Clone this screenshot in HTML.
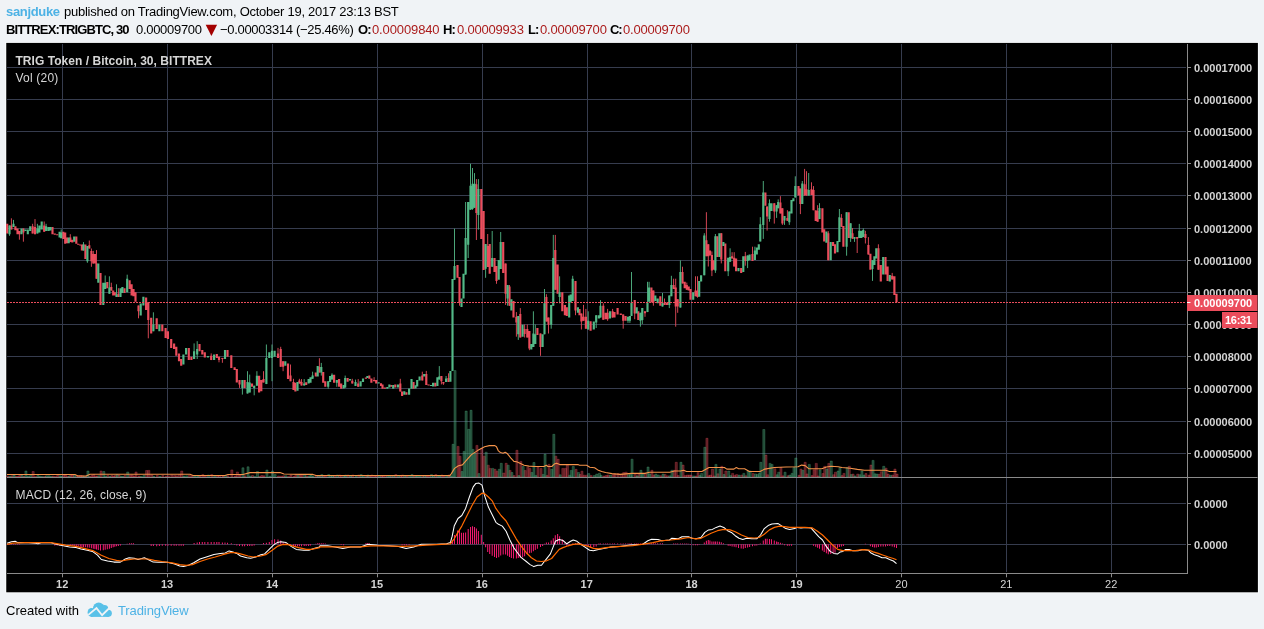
<!DOCTYPE html>
<html><head><meta charset="utf-8"><title>TRIGBTC chart</title>
<style>
html,body{margin:0;padding:0;}
body{width:1264px;height:629px;background:#f0f3f6;position:relative;overflow:hidden;font-family:"Liberation Sans",sans-serif;}
.t{position:absolute;white-space:nowrap;font-size:13px;line-height:16px;color:#000;will-change:transform;}
.b{font-weight:bold;}
.rd{color:#ab1c1c;}
.bl{color:#4db2e5;}
</style></head><body>
<svg width="1264" height="629" viewBox="0 0 1264 629" style="position:absolute;left:0;top:0;will-change:transform">
<rect x="5.35" y="42.0" width="1253.45" height="551.1999999999999" fill="#fbfdfe"/>
<rect x="6.25" y="42.9" width="1251.65" height="549.4" fill="#000"/>
<path d="M7 67.5H1186M7 99.5H1186M7 131.5H1186M7 163.5H1186M7 195.5H1186M7 228.5H1186M7 260.5H1186M7 292.5H1186M7 324.5H1186M7 356.5H1186M7 388.5H1186M7 421.5H1186M7 453.5H1186M7 503.5H1186M7 544.5H1186M62.5 44V572M167.5 44V572M272.5 44V572M377.5 44V572M482.5 44V572M587.5 44V572M691.5 44V572M796.5 44V572M901.5 44V572M1006.5 44V572M1111.5 44V572" stroke="#363c4e" stroke-width="1" fill="none" shape-rendering="crispEdges"/>
<path d="M6.70 477.0V476.0h2.1V477.0zM10.90 477.0V475.8h2.1V477.0zM14.90 477.0V476.4h2.1V477.0zM17.00 477.0V476.4h2.1V477.0zM18.90 477.0V474.6h2.1V477.0zM22.90 477.0V476.4h2.1V477.0zM32.10 477.0V471.5h2.1V477.0zM34.50 477.0V476.4h2.1V477.0zM43.70 477.0V476.4h2.1V477.0zM52.00 477.0V476.2h2.1V477.0zM54.30 477.0V476.4h2.1V477.0zM56.70 477.0V475.5h2.1V477.0zM62.80 477.0V474.6h2.1V477.0zM64.70 477.0V475.5h2.1V477.0zM66.60 477.0V476.4h2.1V477.0zM69.80 477.0V475.0h2.1V477.0zM71.80 477.0V475.0h2.1V477.0zM75.80 477.0V476.4h2.1V477.0zM77.70 477.0V475.5h2.1V477.0zM79.80 477.0V475.5h2.1V477.0zM81.40 477.0V475.8h2.1V477.0zM84.90 477.0V476.2h2.1V477.0zM88.80 477.0V476.4h2.1V477.0zM90.90 477.0V475.5h2.1V477.0zM92.80 477.0V474.6h2.1V477.0zM94.40 477.0V476.2h2.1V477.0zM96.00 477.0V476.0h2.1V477.0zM100.00 477.0V471.0h2.1V477.0zM106.80 477.0V475.5h2.1V477.0zM110.80 477.0V475.5h2.1V477.0zM112.70 477.0V476.0h2.1V477.0zM114.30 477.0V475.5h2.1V477.0zM117.90 477.0V475.0h2.1V477.0zM124.00 477.0V475.5h2.1V477.0zM129.10 477.0V475.5h2.1V477.0zM131.10 477.0V475.0h2.1V477.0zM133.00 477.0V476.2h2.1V477.0zM135.00 477.0V472.0h2.1V477.0zM138.00 477.0V476.0h2.1V477.0zM145.60 477.0V470.5h2.1V477.0zM147.80 477.0V470.4h2.1V477.0zM150.70 477.0V475.0h2.1V477.0zM156.20 477.0V475.5h2.1V477.0zM161.80 477.0V475.5h2.1V477.0zM165.10 477.0V476.2h2.1V477.0zM167.40 477.0V475.8h2.1V477.0zM170.70 477.0V475.0h2.1V477.0zM173.60 477.0V475.5h2.1V477.0zM175.80 477.0V475.8h2.1V477.0zM178.50 477.0V474.6h2.1V477.0zM180.70 477.0V471.0h2.1V477.0zM188.30 477.0V475.5h2.1V477.0zM190.90 477.0V475.8h2.1V477.0zM199.00 477.0V476.2h2.1V477.0zM201.80 477.0V474.6h2.1V477.0zM204.30 477.0V476.2h2.1V477.0zM210.70 477.0V474.6h2.1V477.0zM216.30 477.0V476.4h2.1V477.0zM218.50 477.0V475.5h2.1V477.0zM221.90 477.0V476.0h2.1V477.0zM227.00 477.0V475.8h2.1V477.0zM230.80 477.0V469.9h2.1V477.0zM234.10 477.0V476.0h2.1V477.0zM236.30 477.0V472.0h2.1V477.0zM239.00 477.0V475.0h2.1V477.0zM244.10 477.0V475.8h2.1V477.0zM251.50 477.0V475.5h2.1V477.0zM258.60 477.0V476.4h2.1V477.0zM260.80 477.0V475.5h2.1V477.0zM263.00 477.0V475.8h2.1V477.0zM277.50 477.0V476.0h2.1V477.0zM280.20 477.0V476.2h2.1V477.0zM282.60 477.0V475.8h2.1V477.0zM287.50 477.0V476.4h2.1V477.0zM290.00 477.0V475.0h2.1V477.0zM293.00 477.0V476.4h2.1V477.0zM294.90 477.0V474.6h2.1V477.0zM298.90 477.0V475.5h2.1V477.0zM301.00 477.0V474.6h2.1V477.0zM305.70 477.0V476.0h2.1V477.0zM315.30 477.0V475.5h2.1V477.0zM318.90 477.0V475.5h2.1V477.0zM322.70 477.0V475.8h2.1V477.0zM324.80 477.0V476.4h2.1V477.0zM333.60 477.0V475.8h2.1V477.0zM338.60 477.0V475.0h2.1V477.0zM340.70 477.0V476.4h2.1V477.0zM347.10 477.0V475.0h2.1V477.0zM351.80 477.0V475.0h2.1V477.0zM357.70 477.0V475.0h2.1V477.0zM365.40 477.0V476.0h2.1V477.0zM368.80 477.0V475.8h2.1V477.0zM370.90 477.0V475.0h2.1V477.0zM373.60 477.0V476.0h2.1V477.0zM375.70 477.0V476.4h2.1V477.0zM380.50 477.0V476.0h2.1V477.0zM382.00 477.0V476.2h2.1V477.0zM384.40 477.0V475.5h2.1V477.0zM390.80 477.0V476.4h2.1V477.0zM394.80 477.0V474.6h2.1V477.0zM399.80 477.0V476.2h2.1V477.0zM401.60 477.0V475.0h2.1V477.0zM405.90 477.0V475.8h2.1V477.0zM413.00 477.0V475.8h2.1V477.0zM421.80 477.0V475.8h2.1V477.0zM425.80 477.0V476.0h2.1V477.0zM428.10 477.0V476.2h2.1V477.0zM434.80 477.0V474.6h2.1V477.0zM440.90 477.0V475.0h2.1V477.0zM442.90 477.0V475.8h2.1V477.0zM448.00 477.0V475.0h2.1V477.0zM457.00 477.0V446.4h2.1V477.0zM459.00 477.0V456.2h2.1V477.0zM475.90 477.0V445.4h2.1V477.0zM480.80 477.0V448.3h2.1V477.0zM483.10 477.0V456.2h2.1V477.0zM487.20 477.0V465.2h2.1V477.0zM489.20 477.0V468.4h2.1V477.0zM494.00 477.0V469.3h2.1V477.0zM496.00 477.0V471.2h2.1V477.0zM502.70 477.0V473.1h2.1V477.0zM505.10 477.0V463.3h2.1V477.0zM509.00 477.0V470.4h2.1V477.0zM513.00 477.0V475.6h2.1V477.0zM515.90 477.0V450.3h2.1V477.0zM519.80 477.0V461.4h2.1V477.0zM524.10 477.0V470.4h2.1V477.0zM526.80 477.0V467.2h2.1V477.0zM528.90 477.0V468.4h2.1V477.0zM536.90 477.0V467.2h2.1V477.0zM540.00 477.0V468.4h2.1V477.0zM545.90 477.0V475.4h2.1V477.0zM548.00 477.0V464.4h2.1V477.0zM554.80 477.0V456.2h2.1V477.0zM557.10 477.0V459.3h2.1V477.0zM561.80 477.0V468.4h2.1V477.0zM564.40 477.0V468.4h2.1V477.0zM566.30 477.0V465.2h2.1V477.0zM575.00 477.0V469.3h2.1V477.0zM579.00 477.0V474.5h2.1V477.0zM580.90 477.0V471.2h2.1V477.0zM583.00 477.0V475.2h2.1V477.0zM585.40 477.0V475.2h2.1V477.0zM590.10 477.0V475.5h2.1V477.0zM602.80 477.0V476.0h2.1V477.0zM605.20 477.0V475.5h2.1V477.0zM607.10 477.0V475.0h2.1V477.0zM612.10 477.0V474.6h2.1V477.0zM614.00 477.0V474.1h2.1V477.0zM617.10 477.0V473.6h2.1V477.0zM620.30 477.0V474.3h2.1V477.0zM622.70 477.0V472.5h2.1V477.0zM625.10 477.0V472.2h2.1V477.0zM634.20 477.0V474.3h2.1V477.0zM637.80 477.0V473.8h2.1V477.0zM644.50 477.0V473.8h2.1V477.0zM650.90 477.0V470.3h2.1V477.0zM652.90 477.0V475.0h2.1V477.0zM659.80 477.0V475.7h2.1V477.0zM664.00 477.0V474.4h2.1V477.0zM666.40 477.0V475.8h2.1V477.0zM673.10 477.0V470.3h2.1V477.0zM675.20 477.0V462.3h2.1V477.0zM677.20 477.0V475.5h2.1V477.0zM682.00 477.0V465.1h2.1V477.0zM684.20 477.0V475.6h2.1V477.0zM686.30 477.0V475.1h2.1V477.0zM688.20 477.0V475.1h2.1V477.0zM690.00 477.0V475.1h2.1V477.0zM695.00 477.0V476.0h2.1V477.0zM697.00 477.0V472.7h2.1V477.0zM705.90 477.0V438.3h2.1V477.0zM707.80 477.0V475.7h2.1V477.0zM709.40 477.0V475.1h2.1V477.0zM711.40 477.0V469.1h2.1V477.0zM713.30 477.0V475.9h2.1V477.0zM716.80 477.0V473.8h2.1V477.0zM720.80 477.0V466.3h2.1V477.0zM724.80 477.0V471.0h2.1V477.0zM731.60 477.0V473.4h2.1V477.0zM733.70 477.0V475.4h2.1V477.0zM735.60 477.0V474.6h2.1V477.0zM740.70 477.0V475.1h2.1V477.0zM744.80 477.0V475.7h2.1V477.0zM752.00 477.0V473.4h2.1V477.0zM764.90 477.0V455.1h2.1V477.0zM766.60 477.0V474.8h2.1V477.0zM773.80 477.0V468.7h2.1V477.0zM779.90 477.0V467.5h2.1V477.0zM781.90 477.0V475.8h2.1V477.0zM786.90 477.0V475.7h2.1V477.0zM798.00 477.0V475.3h2.1V477.0zM799.90 477.0V469.1h2.1V477.0zM804.10 477.0V462.3h2.1V477.0zM806.00 477.0V473.9h2.1V477.0zM811.00 477.0V475.6h2.1V477.0zM813.00 477.0V469.8h2.1V477.0zM815.20 477.0V463.4h2.1V477.0zM817.10 477.0V475.9h2.1V477.0zM821.90 477.0V473.6h2.1V477.0zM823.70 477.0V466.3h2.1V477.0zM827.80 477.0V463.4h2.1V477.0zM832.60 477.0V474.7h2.1V477.0zM834.50 477.0V472.2h2.1V477.0zM840.90 477.0V475.6h2.1V477.0zM842.90 477.0V473.4h2.1V477.0zM848.20 477.0V466.3h2.1V477.0zM852.00 477.0V474.1h2.1V477.0zM856.70 477.0V474.1h2.1V477.0zM864.90 477.0V473.6h2.1V477.0zM867.90 477.0V475.1h2.1V477.0zM869.90 477.0V465.1h2.1V477.0zM877.90 477.0V474.3h2.1V477.0zM880.30 477.0V471.7h2.1V477.0zM885.00 477.0V468.2h2.1V477.0zM887.10 477.0V474.1h2.1V477.0zM891.70 477.0V475.1h2.1V477.0zM893.90 477.0V469.1h2.1V477.0zM896.00 477.0V474.1h2.1V477.0z" fill="#eb4d5c" fill-opacity="0.36" stroke="#eb4d5c" stroke-opacity="0.6" stroke-width="0.5"/>
<path d="M9.00 477.0V476.2h2.1V477.0zM13.00 477.0V475.0h2.1V477.0zM21.00 477.0V475.5h2.1V477.0zM24.90 477.0V471.0h2.1V477.0zM27.30 477.0V476.0h2.1V477.0zM29.70 477.0V475.5h2.1V477.0zM36.90 477.0V475.5h2.1V477.0zM38.90 477.0V476.2h2.1V477.0zM41.20 477.0V476.4h2.1V477.0zM45.60 477.0V475.8h2.1V477.0zM48.00 477.0V475.8h2.1V477.0zM50.10 477.0V476.4h2.1V477.0zM59.10 477.0V475.8h2.1V477.0zM60.70 477.0V476.4h2.1V477.0zM68.20 477.0V476.2h2.1V477.0zM73.70 477.0V475.5h2.1V477.0zM83.00 477.0V476.4h2.1V477.0zM86.90 477.0V471.0h2.1V477.0zM97.80 477.0V475.8h2.1V477.0zM102.80 477.0V471.5h2.1V477.0zM104.70 477.0V476.2h2.1V477.0zM108.90 477.0V476.4h2.1V477.0zM116.00 477.0V474.6h2.1V477.0zM120.00 477.0V476.2h2.1V477.0zM121.90 477.0V476.4h2.1V477.0zM126.70 477.0V472.0h2.1V477.0zM140.20 477.0V476.4h2.1V477.0zM142.90 477.0V475.5h2.1V477.0zM152.90 477.0V476.4h2.1V477.0zM158.90 477.0V476.4h2.1V477.0zM182.90 477.0V476.0h2.1V477.0zM185.60 477.0V475.8h2.1V477.0zM193.60 477.0V476.0h2.1V477.0zM196.70 477.0V476.0h2.1V477.0zM207.40 477.0V475.0h2.1V477.0zM213.60 477.0V476.2h2.1V477.0zM224.50 477.0V475.5h2.1V477.0zM241.90 477.0V467.8h2.1V477.0zM247.00 477.0V466.8h2.1V477.0zM249.20 477.0V476.0h2.1V477.0zM253.70 477.0V476.4h2.1V477.0zM256.40 477.0V471.5h2.1V477.0zM265.90 477.0V470.0h2.1V477.0zM268.80 477.0V476.2h2.1V477.0zM271.50 477.0V471.0h2.1V477.0zM274.10 477.0V474.6h2.1V477.0zM284.80 477.0V475.8h2.1V477.0zM297.00 477.0V475.5h2.1V477.0zM303.70 477.0V474.6h2.1V477.0zM308.10 477.0V476.0h2.1V477.0zM310.00 477.0V475.0h2.1V477.0zM312.10 477.0V476.0h2.1V477.0zM317.20 477.0V475.8h2.1V477.0zM320.80 477.0V474.6h2.1V477.0zM327.70 477.0V474.6h2.1V477.0zM329.60 477.0V476.4h2.1V477.0zM331.50 477.0V476.0h2.1V477.0zM336.30 477.0V475.0h2.1V477.0zM343.10 477.0V476.4h2.1V477.0zM344.70 477.0V475.0h2.1V477.0zM349.50 477.0V476.0h2.1V477.0zM355.00 477.0V475.5h2.1V477.0zM360.10 477.0V474.6h2.1V477.0zM362.50 477.0V475.8h2.1V477.0zM366.90 477.0V475.0h2.1V477.0zM378.10 477.0V475.8h2.1V477.0zM386.80 477.0V476.4h2.1V477.0zM388.90 477.0V475.8h2.1V477.0zM392.70 477.0V476.2h2.1V477.0zM397.50 477.0V476.0h2.1V477.0zM403.80 477.0V476.2h2.1V477.0zM408.60 477.0V475.8h2.1V477.0zM411.00 477.0V474.6h2.1V477.0zM415.00 477.0V476.4h2.1V477.0zM416.70 477.0V476.2h2.1V477.0zM419.10 477.0V475.8h2.1V477.0zM423.70 477.0V475.5h2.1V477.0zM430.50 477.0V474.6h2.1V477.0zM432.60 477.0V475.8h2.1V477.0zM436.90 477.0V475.5h2.1V477.0zM438.80 477.0V476.0h2.1V477.0zM445.60 477.0V476.0h2.1V477.0zM449.90 477.0V475.8h2.1V477.0zM452.00 477.0V444.3h2.1V477.0zM454.00 477.0V370.6h2.1V477.0zM461.00 477.0V471.5h2.1V477.0zM463.00 477.0V451.4h2.1V477.0zM465.10 477.0V411.1h2.1V477.0zM467.70 477.0V429.3h2.1V477.0zM470.00 477.0V410.3h2.1V477.0zM472.00 477.0V449.4h2.1V477.0zM474.00 477.0V453.0h2.1V477.0zM477.90 477.0V473.6h2.1V477.0zM485.10 477.0V452.2h2.1V477.0zM491.70 477.0V468.4h2.1V477.0zM498.20 477.0V469.3h2.1V477.0zM500.20 477.0V463.3h2.1V477.0zM507.10 477.0V465.2h2.1V477.0zM510.90 477.0V472.5h2.1V477.0zM517.80 477.0V475.6h2.1V477.0zM522.10 477.0V466.5h2.1V477.0zM530.80 477.0V472.5h2.1V477.0zM532.90 477.0V462.5h2.1V477.0zM534.80 477.0V475.4h2.1V477.0zM542.10 477.0V474.4h2.1V477.0zM544.00 477.0V454.1h2.1V477.0zM550.70 477.0V469.3h2.1V477.0zM552.80 477.0V434.3h2.1V477.0zM559.10 477.0V474.8h2.1V477.0zM568.70 477.0V475.2h2.1V477.0zM570.20 477.0V470.4h2.1V477.0zM572.20 477.0V466.5h2.1V477.0zM577.40 477.0V472.5h2.1V477.0zM587.70 477.0V473.6h2.1V477.0zM593.30 477.0V475.5h2.1V477.0zM595.70 477.0V474.1h2.1V477.0zM598.40 477.0V473.3h2.1V477.0zM600.00 477.0V475.3h2.1V477.0zM609.50 477.0V475.1h2.1V477.0zM627.50 477.0V474.7h2.1V477.0zM629.40 477.0V474.5h2.1V477.0zM631.00 477.0V459.2h2.1V477.0zM636.20 477.0V475.9h2.1V477.0zM639.90 477.0V470.3h2.1V477.0zM641.80 477.0V474.1h2.1V477.0zM647.00 477.0V467.0h2.1V477.0zM648.60 477.0V474.0h2.1V477.0zM654.80 477.0V474.1h2.1V477.0zM657.20 477.0V475.0h2.1V477.0zM662.00 477.0V474.1h2.1V477.0zM668.80 477.0V475.8h2.1V477.0zM670.90 477.0V470.3h2.1V477.0zM679.90 477.0V462.3h2.1V477.0zM692.70 477.0V475.9h2.1V477.0zM698.70 477.0V475.6h2.1V477.0zM700.60 477.0V473.4h2.1V477.0zM703.80 477.0V447.3h2.1V477.0zM714.90 477.0V464.4h2.1V477.0zM718.90 477.0V469.1h2.1V477.0zM722.90 477.0V474.5h2.1V477.0zM727.70 477.0V471.0h2.1V477.0zM729.60 477.0V475.6h2.1V477.0zM738.00 477.0V475.1h2.1V477.0zM742.80 477.0V473.4h2.1V477.0zM747.10 477.0V471.0h2.1V477.0zM749.10 477.0V471.0h2.1V477.0zM754.40 477.0V473.9h2.1V477.0zM756.30 477.0V474.6h2.1V477.0zM758.30 477.0V473.5h2.1V477.0zM759.80 477.0V462.3h2.1V477.0zM762.80 477.0V429.5h2.1V477.0zM769.00 477.0V463.4h2.1V477.0zM771.00 477.0V464.4h2.1V477.0zM776.10 477.0V474.8h2.1V477.0zM777.70 477.0V472.2h2.1V477.0zM784.00 477.0V472.2h2.1V477.0zM788.80 477.0V475.1h2.1V477.0zM791.00 477.0V473.4h2.1V477.0zM792.90 477.0V467.5h2.1V477.0zM794.80 477.0V458.0h2.1V477.0zM801.80 477.0V470.3h2.1V477.0zM808.20 477.0V464.4h2.1V477.0zM819.00 477.0V469.8h2.1V477.0zM825.90 477.0V469.1h2.1V477.0zM830.20 477.0V461.1h2.1V477.0zM837.00 477.0V471.0h2.1V477.0zM838.90 477.0V467.5h2.1V477.0zM846.10 477.0V467.5h2.1V477.0zM850.10 477.0V474.6h2.1V477.0zM854.00 477.0V475.9h2.1V477.0zM858.80 477.0V474.7h2.1V477.0zM860.90 477.0V471.0h2.1V477.0zM862.80 477.0V475.1h2.1V477.0zM872.00 477.0V460.4h2.1V477.0zM873.90 477.0V473.8h2.1V477.0zM875.80 477.0V474.1h2.1V477.0zM882.70 477.0V466.3h2.1V477.0zM889.30 477.0V475.3h2.1V477.0z" fill="#53b987" fill-opacity="0.36" stroke="#53b987" stroke-opacity="0.6" stroke-width="0.5"/>
<polyline points="7.0,474.5 75.0,474.5 78.0,476.0 86.0,476.0 90.0,474.2 190.0,474.2 193.0,475.5 225.0,475.5 228.0,474.5 243.0,474.5 250.0,472.6 280.0,472.6 284.0,474.0 300.0,474.4 313.0,474.4 316.0,475.5 446.0,475.5 449.8,475.6 451.4,473.6 454.5,468.4 458.5,465.7 462.4,464.9 467.2,459.3 471.5,454.6 477.5,450.6 484.6,446.7 489.3,445.6 494.9,445.6 496.5,446.7 498.4,450.9 500.4,452.5 503.1,453.3 505.2,452.2 507.5,453.8 510.7,457.8 513.9,461.4 516.7,461.7 519.4,463.0 524.1,465.3 528.9,466.1 534.4,466.5 543.9,466.5 546.3,465.2 547.9,466.5 551.8,466.5 554.2,464.1 556.6,463.3 559.7,464.6 577.9,464.6 579.5,465.3 586.6,465.3 589.8,467.2 594.6,467.7 597.7,469.9 601.7,471.5 605.6,472.5 612.0,473.6 619.9,474.4 631.9,473.4 644.9,473.4 649.7,472.2 669.8,472.2 674.6,471.0 680.5,471.0 683.6,470.3 686.5,471.5 701.9,471.5 709.0,467.5 724.4,467.5 726.8,469.1 733.9,469.1 736.3,467.5 738.7,468.7 744.6,468.7 749.4,471.5 760.0,471.5 764.8,469.1 774.3,467.5 786.2,467.0 798.0,466.8 801.6,465.1 805.1,465.6 808.7,468.7 821.8,468.7 826.5,467.0 831.3,466.3 838.4,466.8 841.9,467.5 850.2,468.2 857.4,469.4 864.5,470.3 885.8,470.3 889.4,471.5 896.5,471.5" fill="none" stroke="#f5934a" stroke-width="1.1" stroke-linejoin="round"/>
<path d="M6.12 223.8h2.15V233.4h-2.15zM10.33 225.4h2.15V229.4h-2.15zM14.33 226.2h2.15V230.2h-2.15zM16.43 228.6h2.15V234.2h-2.15zM18.32 231.0h2.15V234.2h-2.15zM22.32 228.6h2.15V232.6h-2.15zM31.53 226.2h2.15V233.4h-2.15zM33.92 227.0h2.15V234.2h-2.15zM43.12 225.4h2.15V231.8h-2.15zM51.42 227.0h2.15V234.2h-2.15zM53.72 233.4h2.15V234.7h-2.15zM56.12 234.2h2.15V235.3h-2.15zM62.22 231.8h2.15V239.0h-2.15zM64.12 232.6h2.15V243.7h-2.15zM66.02 237.4h2.15V243.2h-2.15zM69.22 237.4h2.15V242.1h-2.15zM71.22 239.7h2.15V242.6h-2.15zM75.22 236.6h2.15V243.7h-2.15zM77.12 243.7h2.15V244.7h-2.15zM79.22 244.5h2.15V245.5h-2.15zM80.83 244.5h2.15V250.6h-2.15zM84.33 244.5h2.15V259.1h-2.15zM88.22 245.3h2.15V248.5h-2.15zM90.33 250.9h2.15V261.2h-2.15zM92.22 254.1h2.15V263.6h-2.15zM93.83 254.1h2.15V263.6h-2.15zM95.42 263.6h2.15V278.7h-2.15zM99.42 273.1h2.15V304.9h-2.15zM106.22 281.9h2.15V288.2h-2.15zM110.22 287.1h2.15V290.6h-2.15zM112.12 290.6h2.15V295.4h-2.15zM113.72 292.2h2.15V295.4h-2.15zM117.33 293.8h2.15V297.0h-2.15zM123.42 288.2h2.15V293.0h-2.15zM128.53 280.3h2.15V289.0h-2.15zM130.53 284.3h2.15V295.4h-2.15zM132.43 289.0h2.15V296.2h-2.15zM134.43 292.2h2.15V301.7h-2.15zM137.43 305.6h2.15V311.2h-2.15zM145.03 297.4h2.15V310.1h-2.15zM147.23 302.3h2.15V320.1h-2.15zM150.12 317.8h2.15V333.4h-2.15zM155.62 318.3h2.15V329.0h-2.15zM161.23 324.5h2.15V331.2h-2.15zM164.53 327.9h2.15V337.9h-2.15zM166.83 331.2h2.15V339.0h-2.15zM170.12 339.0h2.15V347.9h-2.15zM173.03 343.4h2.15V349.0h-2.15zM175.23 346.8h2.15V355.7h-2.15zM177.93 353.4h2.15V361.2h-2.15zM180.12 359.0h2.15V365.7h-2.15zM187.73 347.9h2.15V360.1h-2.15zM190.33 356.8h2.15V360.1h-2.15zM198.43 344.1h2.15V351.2h-2.15zM201.23 350.1h2.15V354.5h-2.15zM203.73 352.3h2.15V357.4h-2.15zM210.12 355.7h2.15V360.1h-2.15zM215.73 354.1h2.15V357.9h-2.15zM217.93 356.8h2.15V360.1h-2.15zM221.33 357.9h2.15V359.0h-2.15zM226.43 350.1h2.15V356.8h-2.15zM230.23 355.2h2.15V367.9h-2.15zM233.53 367.2h2.15V370.1h-2.15zM235.73 369.0h2.15V382.4h-2.15zM238.43 380.1h2.15V384.6h-2.15zM243.53 380.1h2.15V387.9h-2.15zM250.93 383.5h2.15V386.8h-2.15zM258.03 375.7h2.15V392.4h-2.15zM260.23 380.1h2.15V391.3h-2.15zM262.43 379.0h2.15V382.4h-2.15zM276.93 353.4h2.15V357.9h-2.15zM279.62 349.0h2.15V366.8h-2.15zM282.03 361.2h2.15V366.8h-2.15zM286.93 363.4h2.15V379.0h-2.15zM289.43 375.6h2.15V381.2h-2.15zM292.43 382.0h2.15V390.0h-2.15zM294.32 382.8h2.15V391.5h-2.15zM298.32 380.4h2.15V383.6h-2.15zM300.43 382.0h2.15V385.5h-2.15zM305.12 382.3h2.15V384.9h-2.15zM314.73 372.5h2.15V376.4h-2.15zM318.32 366.9h2.15V372.5h-2.15zM322.12 372.1h2.15V382.8h-2.15zM324.23 381.2h2.15V386.8h-2.15zM333.03 374.8h2.15V382.8h-2.15zM338.03 379.1h2.15V386.8h-2.15zM340.12 383.6h2.15V388.7h-2.15zM346.53 378.0h2.15V381.7h-2.15zM351.23 380.7h2.15V383.6h-2.15zM357.12 383.6h2.15V386.8h-2.15zM364.82 377.6h2.15V378.8h-2.15zM368.23 375.6h2.15V378.8h-2.15zM370.32 378.5h2.15V382.8h-2.15zM373.03 380.1h2.15V381.2h-2.15zM375.12 380.1h2.15V383.6h-2.15zM379.93 383.3h2.15V386.0h-2.15zM381.43 384.4h2.15V388.7h-2.15zM383.82 387.6h2.15V388.7h-2.15zM390.23 384.9h2.15V386.8h-2.15zM394.23 384.4h2.15V387.6h-2.15zM399.23 383.6h2.15V391.5h-2.15zM401.03 391.5h2.15V396.0h-2.15zM405.32 392.3h2.15V394.7h-2.15zM412.43 382.0h2.15V388.7h-2.15zM421.23 375.6h2.15V380.4h-2.15zM425.23 374.1h2.15V384.9h-2.15zM427.53 384.4h2.15V385.5h-2.15zM434.23 382.8h2.15V386.5h-2.15zM440.32 376.0h2.15V381.2h-2.15zM442.32 382.0h2.15V383.6h-2.15zM447.43 378.0h2.15V382.0h-2.15zM456.43 265.0h2.15V277.8h-2.15zM458.43 277.0h2.15V302.5h-2.15zM475.32 184.2h2.15V213.0h-2.15zM480.23 189.0h2.15V239.0h-2.15zM482.53 211.0h2.15V269.9h-2.15zM486.62 246.0h2.15V267.0h-2.15zM488.62 244.0h2.15V273.8h-2.15zM493.43 258.0h2.15V272.0h-2.15zM495.43 266.0h2.15V281.0h-2.15zM502.12 242.0h2.15V273.0h-2.15zM504.53 263.6h2.15V293.8h-2.15zM508.43 286.6h2.15V305.7h-2.15zM512.42 300.9h2.15V317.6h-2.15zM515.32 316.8h2.15V322.4h-2.15zM519.22 314.0h2.15V337.5h-2.15zM523.52 329.1h2.15V334.0h-2.15zM526.22 329.1h2.15V337.5h-2.15zM528.32 331.1h2.15V348.6h-2.15zM536.32 328.0h2.15V335.1h-2.15zM539.42 333.5h2.15V347.0h-2.15zM545.32 297.0h2.15V321.6h-2.15zM547.42 317.6h2.15V324.8h-2.15zM554.22 250.1h2.15V289.8h-2.15zM556.52 264.4h2.15V293.8h-2.15zM561.22 292.2h2.15V311.3h-2.15zM563.82 304.9h2.15V315.2h-2.15zM565.72 307.3h2.15V316.0h-2.15zM574.42 281.1h2.15V310.5h-2.15zM578.42 308.9h2.15V315.2h-2.15zM580.32 313.6h2.15V321.6h-2.15zM582.42 316.8h2.15V320.8h-2.15zM584.82 316.8h2.15V328.7h-2.15zM589.52 321.3h2.15V330.8h-2.15zM602.22 305.7h2.15V319.7h-2.15zM604.62 312.8h2.15V319.2h-2.15zM606.52 312.8h2.15V319.2h-2.15zM611.52 311.3h2.15V317.6h-2.15zM613.42 312.1h2.15V317.6h-2.15zM616.52 308.1h2.15V314.4h-2.15zM619.72 313.6h2.15V314.9h-2.15zM622.12 314.4h2.15V320.8h-2.15zM624.52 316.0h2.15V320.8h-2.15zM633.62 300.1h2.15V313.6h-2.15zM637.22 311.3h2.15V320.0h-2.15zM643.92 311.3h2.15V313.3h-2.15zM650.32 287.4h2.15V302.5h-2.15zM652.32 290.6h2.15V302.5h-2.15zM659.22 296.2h2.15V305.7h-2.15zM663.42 302.5h2.15V304.9h-2.15zM665.82 302.5h2.15V304.9h-2.15zM672.52 285.0h2.15V289.0h-2.15zM674.62 287.4h2.15V306.5h-2.15zM676.62 299.3h2.15V306.5h-2.15zM681.42 272.0h2.15V283.4h-2.15zM683.62 281.8h2.15V288.2h-2.15zM685.72 285.0h2.15V289.8h-2.15zM687.62 286.6h2.15V290.6h-2.15zM689.42 289.0h2.15V299.7h-2.15zM694.42 290.6h2.15V296.2h-2.15zM696.42 290.6h2.15V297.0h-2.15zM705.32 240.3h2.15V256.2h-2.15zM707.22 244.3h2.15V256.2h-2.15zM708.82 250.6h2.15V255.4h-2.15zM710.82 255.1h2.15V270.5h-2.15zM712.72 260.2h2.15V269.7h-2.15zM716.22 236.3h2.15V257.0h-2.15zM720.22 233.2h2.15V259.4h-2.15zM724.22 243.5h2.15V271.3h-2.15zM731.02 256.2h2.15V258.6h-2.15zM733.12 257.8h2.15V266.5h-2.15zM735.02 258.6h2.15V271.3h-2.15zM740.12 268.1h2.15V272.9h-2.15zM744.22 256.2h2.15V261.0h-2.15zM751.42 254.1h2.15V261.0h-2.15zM764.32 192.4h2.15V205.8h-2.15zM766.02 206.4h2.15V216.6h-2.15zM773.22 203.2h2.15V211.5h-2.15zM779.32 202.6h2.15V213.4h-2.15zM781.32 208.3h2.15V223.6h-2.15zM786.32 217.9h2.15V220.8h-2.15zM797.42 186.1h2.15V195.6h-2.15zM799.32 188.6h2.15V203.9h-2.15zM803.52 184.2h2.15V195.6h-2.15zM805.42 189.3h2.15V195.6h-2.15zM810.42 189.3h2.15V195.0h-2.15zM812.42 189.9h2.15V210.2h-2.15zM814.62 210.2h2.15V221.0h-2.15zM816.52 210.9h2.15V221.7h-2.15zM821.32 208.3h2.15V232.5h-2.15zM823.12 229.3h2.15V241.4h-2.15zM827.22 233.2h2.15V260.2h-2.15zM832.02 241.9h2.15V245.9h-2.15zM833.92 244.3h2.15V253.5h-2.15zM840.32 218.1h2.15V226.8h-2.15zM842.32 226.0h2.15V246.7h-2.15zM847.62 212.2h2.15V237.9h-2.15zM851.42 233.2h2.15V238.7h-2.15zM856.12 237.1h2.15V238.7h-2.15zM864.32 234.0h2.15V237.9h-2.15zM867.32 245.1h2.15V254.6h-2.15zM869.32 253.8h2.15V269.7h-2.15zM877.32 248.3h2.15V269.7h-2.15zM879.72 265.0h2.15V281.6h-2.15zM884.42 257.0h2.15V274.5h-2.15zM886.52 266.5h2.15V280.9h-2.15zM891.12 275.8h2.15V279.4h-2.15zM893.32 276.2h2.15V295.1h-2.15zM895.42 293.7h2.15V302.3h-2.15z" fill="#eb4d5c"/>
<path d="M11.40 218.3V229.4M19.40 231.0V239.7M23.40 228.6V241.7M32.60 223.8V233.4M35.00 219.1V234.2M44.20 221.5V231.8M70.30 234.2V242.1M89.30 240.5V248.5M91.40 248.5V266.8M93.30 250.9V263.6M96.50 250.1V278.7M111.30 282.7V290.6M118.40 288.2V297.0M138.50 305.6V318.3M148.30 302.3V338.3M211.20 353.4V360.1M219.00 356.8V362.3M222.40 357.9V362.8M239.50 380.1V387.9M263.50 371.2V382.4M278.00 347.9V357.9M280.70 346.8V366.8M283.10 361.2V371.2M290.50 364.5V381.2M293.50 378.8V390.0M299.40 378.8V383.6M301.50 379.1V385.5M319.40 358.2V372.5M352.30 378.8V383.6M358.20 379.1V386.8M374.10 377.2V381.2M400.30 378.8V391.5M422.30 371.7V380.4M426.30 370.9V384.9M441.40 376.0V384.4M443.40 382.0V384.9M448.50 373.3V382.0M459.50 277.0V305.7M476.40 179.1V240.0M487.70 234.0V267.0M496.50 266.0V283.8M505.60 263.6V304.9M509.50 285.0V305.7M516.40 312.1V336.7M520.30 308.1V337.5M524.60 324.5V337.5M527.30 324.5V337.5M529.40 331.1V350.2M540.50 333.5V355.8M546.40 294.2V321.6M548.50 317.6V333.5M555.30 234.9V289.8M575.50 281.1V315.2M581.40 313.6V329.5M583.50 304.9V320.8M585.90 308.9V328.7M603.30 303.3V319.7M607.60 308.9V320.8M612.60 308.9V317.6M623.20 314.4V328.7M634.70 300.1V319.2M645.00 311.3V316.8M653.40 290.6V305.7M664.50 298.5V304.9M673.60 278.7V289.0M675.70 278.7V326.7M677.70 299.3V312.8M682.50 266.7V283.4M686.80 282.6V289.8M695.50 276.3V296.2M697.50 276.3V297.7M706.40 212.2V256.2M708.30 244.3V266.5M711.90 251.4V276.1M721.30 233.2V263.4M732.10 252.2V258.6M734.20 252.2V266.5M745.30 251.9V265.7M752.50 246.7V261.0M767.10 206.4V230.6M774.30 203.2V223.6M780.40 196.2V213.4M782.40 208.3V224.9M787.40 210.2V220.8M800.40 188.6V214.1M804.60 168.9V195.6M806.50 171.2V195.6M811.50 182.3V195.0M813.50 186.1V210.2M817.60 205.2V221.7M828.30 231.2V260.2M841.40 214.1V226.8M852.50 228.1V238.7M857.20 237.1V253.0M865.40 230.8V243.5M868.40 237.1V254.6M878.40 244.3V269.7M892.20 272.9V279.4" stroke="#eb4d5c" stroke-width="0.9" fill="none"/>
<path d="M8.43 225.4h2.15V234.2h-2.15zM12.43 223.8h2.15V227.0h-2.15zM20.43 228.6h2.15V234.2h-2.15zM24.32 229.4h2.15V231.0h-2.15zM26.73 229.4h2.15V234.2h-2.15zM29.12 226.2h2.15V231.0h-2.15zM36.32 228.6h2.15V233.4h-2.15zM38.32 225.4h2.15V232.6h-2.15zM40.62 221.5h2.15V229.4h-2.15zM45.02 226.2h2.15V231.0h-2.15zM47.42 227.0h2.15V231.0h-2.15zM49.52 227.0h2.15V230.5h-2.15zM58.52 231.8h2.15V237.4h-2.15zM60.12 232.6h2.15V238.2h-2.15zM67.62 237.4h2.15V243.2h-2.15zM73.12 236.6h2.15V241.7h-2.15zM82.42 244.5h2.15V250.6h-2.15zM86.33 246.1h2.15V261.2h-2.15zM97.22 263.6h2.15V282.7h-2.15zM102.22 282.7h2.15V304.9h-2.15zM104.12 282.7h2.15V289.0h-2.15zM108.33 287.4h2.15V293.8h-2.15zM115.42 294.6h2.15V297.0h-2.15zM119.42 288.2h2.15V297.0h-2.15zM121.33 287.1h2.15V293.0h-2.15zM126.12 278.7h2.15V292.2h-2.15zM139.62 303.4h2.15V315.6h-2.15zM142.33 296.7h2.15V305.6h-2.15zM152.33 324.5h2.15V331.2h-2.15zM158.33 324.5h2.15V331.2h-2.15zM182.33 354.5h2.15V364.6h-2.15zM185.03 347.9h2.15V354.5h-2.15zM193.03 351.2h2.15V359.0h-2.15zM196.12 349.0h2.15V354.5h-2.15zM206.83 356.1h2.15V357.4h-2.15zM213.03 354.5h2.15V360.1h-2.15zM223.93 350.1h2.15V359.0h-2.15zM241.33 380.1h2.15V387.9h-2.15zM246.43 381.9h2.15V393.5h-2.15zM248.62 382.4h2.15V392.4h-2.15zM253.12 385.7h2.15V387.9h-2.15zM255.82 375.7h2.15V385.7h-2.15zM265.32 357.9h2.15V384.1h-2.15zM268.23 352.3h2.15V357.9h-2.15zM270.93 350.8h2.15V357.9h-2.15zM273.53 350.8h2.15V356.8h-2.15zM284.23 361.2h2.15V365.7h-2.15zM296.43 382.0h2.15V390.7h-2.15zM303.12 383.6h2.15V385.5h-2.15zM307.53 379.1h2.15V383.6h-2.15zM309.43 377.2h2.15V382.8h-2.15zM311.53 375.6h2.15V378.8h-2.15zM316.62 366.1h2.15V376.4h-2.15zM320.23 366.9h2.15V372.5h-2.15zM327.12 381.2h2.15V386.8h-2.15zM329.03 376.0h2.15V382.0h-2.15zM330.93 374.8h2.15V379.6h-2.15zM335.73 380.1h2.15V382.8h-2.15zM342.53 384.9h2.15V388.4h-2.15zM344.12 378.0h2.15V387.6h-2.15zM348.93 379.1h2.15V380.4h-2.15zM354.43 382.0h2.15V386.0h-2.15zM359.53 381.2h2.15V386.5h-2.15zM361.93 378.5h2.15V382.0h-2.15zM366.32 376.0h2.15V378.0h-2.15zM377.53 382.3h2.15V383.6h-2.15zM386.23 387.1h2.15V388.7h-2.15zM388.32 384.4h2.15V387.6h-2.15zM392.12 384.9h2.15V388.7h-2.15zM396.93 384.4h2.15V387.6h-2.15zM403.23 391.2h2.15V394.7h-2.15zM408.03 388.4h2.15V394.7h-2.15zM410.43 379.1h2.15V388.7h-2.15zM414.43 385.2h2.15V388.4h-2.15zM416.12 380.1h2.15V386.5h-2.15zM418.53 376.4h2.15V380.4h-2.15zM423.12 374.1h2.15V376.4h-2.15zM429.93 384.9h2.15V385.9h-2.15zM432.03 382.8h2.15V386.5h-2.15zM436.32 377.2h2.15V386.0h-2.15zM438.23 376.4h2.15V379.6h-2.15zM445.03 378.5h2.15V382.0h-2.15zM449.32 370.9h2.15V381.7h-2.15zM451.43 279.0h2.15V371.0h-2.15zM453.43 265.9h2.15V279.8h-2.15zM460.43 298.6h2.15V307.0h-2.15zM462.43 273.8h2.15V298.6h-2.15zM464.53 238.0h2.15V274.6h-2.15zM467.12 202.1h2.15V244.7h-2.15zM469.43 185.8h2.15V209.8h-2.15zM471.43 183.8h2.15V209.0h-2.15zM473.43 183.8h2.15V207.8h-2.15zM477.32 189.0h2.15V215.0h-2.15zM484.53 244.0h2.15V268.7h-2.15zM491.12 258.0h2.15V266.7h-2.15zM497.62 260.0h2.15V279.8h-2.15zM499.62 242.0h2.15V269.0h-2.15zM506.53 285.0h2.15V298.5h-2.15zM510.32 299.3h2.15V310.5h-2.15zM517.22 316.0h2.15V334.3h-2.15zM521.52 324.8h2.15V336.7h-2.15zM530.22 343.9h2.15V349.4h-2.15zM532.32 333.5h2.15V347.0h-2.15zM534.22 334.3h2.15V343.9h-2.15zM541.52 334.3h2.15V347.0h-2.15zM543.42 303.3h2.15V334.3h-2.15zM550.12 304.9h2.15V324.8h-2.15zM552.22 258.0h2.15V305.7h-2.15zM558.52 292.2h2.15V297.0h-2.15zM568.12 295.4h2.15V317.6h-2.15zM569.62 294.6h2.15V302.5h-2.15zM571.62 278.7h2.15V300.9h-2.15zM576.82 307.3h2.15V312.8h-2.15zM587.12 320.8h2.15V329.5h-2.15zM592.72 321.6h2.15V329.5h-2.15zM595.12 315.2h2.15V322.4h-2.15zM597.82 315.2h2.15V318.4h-2.15zM599.42 305.7h2.15V317.6h-2.15zM608.92 311.3h2.15V318.4h-2.15zM626.92 316.8h2.15V320.8h-2.15zM628.82 316.0h2.15V320.8h-2.15zM630.42 302.5h2.15V316.0h-2.15zM635.62 307.3h2.15V313.6h-2.15zM639.32 312.8h2.15V320.8h-2.15zM641.22 308.1h2.15V320.0h-2.15zM646.42 302.5h2.15V312.1h-2.15zM648.02 287.4h2.15V301.7h-2.15zM654.22 295.4h2.15V300.9h-2.15zM656.62 298.5h2.15V303.3h-2.15zM661.42 303.3h2.15V306.5h-2.15zM668.22 295.4h2.15V304.9h-2.15zM670.32 285.0h2.15V296.2h-2.15zM679.32 272.0h2.15V307.6h-2.15zM692.12 292.2h2.15V299.7h-2.15zM698.12 280.9h2.15V296.7h-2.15zM700.02 275.3h2.15V281.6h-2.15zM703.22 235.5h2.15V275.3h-2.15zM714.32 236.3h2.15V270.5h-2.15zM718.32 233.2h2.15V257.0h-2.15zM722.32 241.9h2.15V245.9h-2.15zM727.12 257.8h2.15V271.3h-2.15zM729.02 257.0h2.15V261.8h-2.15zM737.42 268.1h2.15V271.3h-2.15zM742.22 256.2h2.15V272.1h-2.15zM746.52 255.4h2.15V261.0h-2.15zM748.52 254.6h2.15V260.2h-2.15zM753.82 250.6h2.15V259.9h-2.15zM755.72 247.5h2.15V254.6h-2.15zM757.72 244.3h2.15V249.8h-2.15zM759.22 224.2h2.15V241.4h-2.15zM762.22 192.4h2.15V224.9h-2.15zM768.42 203.2h2.15V219.1h-2.15zM770.42 203.2h2.15V210.9h-2.15zM775.52 205.2h2.15V211.5h-2.15zM777.12 202.0h2.15V208.3h-2.15zM783.42 216.0h2.15V220.4h-2.15zM788.22 211.5h2.15V222.3h-2.15zM790.42 200.1h2.15V213.4h-2.15zM792.32 198.2h2.15V201.3h-2.15zM794.22 186.1h2.15V197.5h-2.15zM801.22 183.5h2.15V203.9h-2.15zM807.62 189.9h2.15V195.6h-2.15zM818.42 208.1h2.15V219.1h-2.15zM825.32 231.6h2.15V242.7h-2.15zM829.62 241.9h2.15V260.2h-2.15zM836.42 241.1h2.15V252.2h-2.15zM838.32 217.3h2.15V241.9h-2.15zM845.52 212.2h2.15V246.7h-2.15zM849.52 223.3h2.15V237.9h-2.15zM853.42 237.1h2.15V238.7h-2.15zM858.22 230.8h2.15V237.9h-2.15zM860.32 230.8h2.15V237.9h-2.15zM862.22 230.0h2.15V237.1h-2.15zM871.42 260.2h2.15V268.9h-2.15zM873.32 256.2h2.15V265.0h-2.15zM875.22 248.3h2.15V258.6h-2.15zM882.12 257.0h2.15V274.5h-2.15zM888.72 275.1h2.15V281.5h-2.15z" fill="#53b987"/>
<path d="M9.50 225.4V235.8M13.50 219.9V227.0M37.40 223.8V233.4M46.10 223.8V231.0M61.20 229.4V238.2M83.50 242.1V250.6M87.40 246.1V262.8M105.20 275.5V289.0M109.40 276.3V293.8M116.50 284.3V297.0M127.20 274.7V292.2M153.40 312.3V331.2M194.10 343.4V359.0M197.20 341.2V359.0M242.40 380.1V394.6M247.50 371.2V393.5M249.70 374.6V392.4M254.20 385.7V395.3M256.90 371.2V385.7M266.40 344.5V384.1M272.00 344.5V381.2M304.20 379.1V385.5M312.60 371.7V378.8M321.30 362.9V375.6M328.20 381.2V388.7M332.00 373.3V379.6M336.80 380.1V386.8M345.20 375.6V387.6M355.50 379.6V386.0M439.30 366.1V379.6M446.10 376.0V382.0M454.50 228.7V279.8M465.60 202.0V274.6M468.20 202.1V258.0M470.50 163.8V209.8M472.50 168.0V209.8M474.50 173.1V207.8M478.40 179.1V229.6M485.60 244.0V277.8M492.20 231.0V266.7M500.70 232.0V269.0M507.60 285.0V305.7M518.30 316.0V339.9M533.40 311.3V347.0M535.30 324.5V343.9M544.50 289.0V334.3M551.20 304.9V328.7M553.30 234.9V305.7M559.60 276.3V303.3M572.70 275.8V300.9M588.20 311.3V329.5M596.20 315.2V328.0M600.50 300.1V317.6M628.00 316.8V322.9M629.90 316.0V322.9M631.50 272.0V316.0M640.40 312.8V326.7M642.30 308.1V324.0M647.50 281.8V312.1M649.10 281.8V301.7M662.50 293.0V306.5M669.30 295.4V308.1M671.40 275.8V296.2M680.40 260.4V307.6M704.30 233.2V275.3M715.40 234.0V272.9M728.20 257.8V276.1M730.10 248.3V261.8M747.60 255.4V268.1M754.90 246.7V259.9M760.30 217.2V241.4M763.30 181.0V238.9M769.50 199.4V221.7M776.60 205.2V217.9M778.20 199.4V208.3M784.50 216.0V224.9M789.30 211.5V224.9M795.30 176.3V197.5M802.30 181.0V203.9M808.70 173.0V195.6M819.50 203.2V219.1M839.40 209.0V241.9M846.60 212.2V255.7M850.60 223.3V241.9M854.50 237.1V241.9M859.30 223.9V237.9M863.30 228.4V237.1M872.50 260.2V280.9" stroke="#53b987" stroke-width="0.9" fill="none"/>
<path d="M7 302.5H1186" stroke="#eb4d5c" stroke-width="1" stroke-dasharray="2 1" fill="none"/>
<path d="M7.20 544.3V544.8M9.50 544.3V544.8M11.40 544.3V544.8M13.50 544.3V544.8M15.40 544.3V544.8M17.50 544.3V544.8M19.40 544.3V544.7M54.80 544.3V545.6M57.20 544.3V545.6M59.60 544.3V545.5M70.30 544.3V544.9M72.30 544.3V545.6M74.20 544.3V546.0M76.30 544.3V546.4M78.20 544.3V546.6M80.30 544.3V546.8M81.90 544.3V546.9M83.50 544.3V547.1M85.40 544.3V547.3M87.40 544.3V547.5M89.30 544.3V547.8M91.40 544.3V548.3M93.30 544.3V548.7M94.90 544.3V549.1M96.50 544.3V549.5M98.30 544.3V549.9M100.50 544.3V550.5M103.30 544.3V550.2M105.20 544.3V549.7M107.30 544.3V549.3M109.40 544.3V548.7M111.30 544.3V547.9M113.20 544.3V547.2M114.80 544.3V546.7M116.50 544.3V546.3M118.40 544.3V546.0M120.50 544.3V545.5M127.20 544.3V543.8M129.60 544.3V543.3M131.60 544.3V543.3M133.50 544.3V543.3M151.20 544.3V545.9M153.40 544.3V546.1M156.70 544.3V546.3M159.40 544.3V546.1M162.30 544.3V545.8M165.60 544.3V545.8M167.90 544.3V545.8M171.20 544.3V545.8M174.10 544.3V545.8M176.30 544.3V545.8M179.00 544.3V545.8M181.20 544.3V545.8M183.40 544.3V545.8M194.10 544.3V543.0M197.20 544.3V542.5M199.50 544.3V542.1M202.30 544.3V542.1M204.80 544.3V542.1M207.90 544.3V542.1M211.20 544.3V542.1M214.10 544.3V542.1M216.80 544.3V542.1M219.00 544.3V542.1M222.40 544.3V542.4M225.00 544.3V542.6M227.50 544.3V542.8M231.30 544.3V543.2M234.60 544.3V544.7M236.80 544.3V545.5M239.50 544.3V545.9M242.40 544.3V546.3M244.60 544.3V546.3M247.50 544.3V546.1M249.70 544.3V546.0M252.00 544.3V545.9M254.20 544.3V545.4M261.30 544.3V543.9M263.50 544.3V543.1M266.40 544.3V542.8M269.30 544.3V541.9M272.00 544.3V540.1M274.60 544.3V539.2M278.00 544.3V539.4M280.70 544.3V540.5M283.10 544.3V541.9M285.30 544.3V543.4M290.50 544.3V545.9M293.50 544.3V546.1M295.40 544.3V546.2M297.50 544.3V546.3M299.40 544.3V546.3M301.50 544.3V546.2M304.20 544.3V546.1M306.20 544.3V546.0M308.60 544.3V545.9M310.50 544.3V545.4M315.80 544.3V543.8M317.70 544.3V543.3M319.40 544.3V543.3M321.30 544.3V543.3M323.20 544.3V543.3M325.30 544.3V543.5M341.20 544.3V545.1M343.60 544.3V545.3M365.90 544.3V543.3M367.40 544.3V543.3M369.30 544.3V543.3M402.10 544.3V545.2M404.30 544.3V545.3M406.40 544.3V545.3M409.10 544.3V544.9M452.50 544.3V540.3M454.50 544.3V534.9M457.50 544.3V530.5M459.50 544.3V530.3M461.50 544.3V532.8M463.50 544.3V532.8M465.60 544.3V532.4M468.20 544.3V528.9M470.50 544.3V527.0M472.50 544.3V526.3M474.50 544.3V527.1M476.40 544.3V528.6M478.40 544.3V531.1M481.30 544.3V534.7M483.60 544.3V541.9M485.60 544.3V547.2M487.70 544.3V552.0M489.70 544.3V554.0M492.20 544.3V555.8M494.50 544.3V556.9M496.50 544.3V558.1M498.70 544.3V557.2M500.70 544.3V555.5M503.20 544.3V554.5M505.60 544.3V554.5M507.60 544.3V555.8M509.50 544.3V557.0M511.40 544.3V558.0M513.50 544.3V558.5M516.40 544.3V558.5M518.30 544.3V558.1M520.30 544.3V557.7M522.60 544.3V557.2M524.60 544.3V556.3M527.30 544.3V554.2M529.40 544.3V553.3M531.30 544.3V552.7M533.40 544.3V551.3M535.30 544.3V550.1M537.40 544.3V548.7M540.50 544.3V546.9M542.60 544.3V545.9M544.50 544.3V543.7M546.40 544.3V542.6M548.50 544.3V542.6M551.20 544.3V540.5M553.30 544.3V538.2M555.30 544.3V535.3M557.60 544.3V534.1M559.60 544.3V536.2M562.30 544.3V539.3M564.90 544.3V542.7M566.80 544.3V545.8M569.20 544.3V545.8M572.70 544.3V543.5M575.50 544.3V543.3M577.90 544.3V543.3M579.50 544.3V543.3M581.40 544.3V543.6M585.90 544.3V545.9M588.20 544.3V546.7M590.60 544.3V547.5M593.80 544.3V547.2M596.20 544.3V546.4M598.90 544.3V543.6M600.50 544.3V543.6M603.30 544.3V543.6M605.70 544.3V543.6M607.60 544.3V543.6M610.00 544.3V543.6M612.60 544.3V543.6M614.50 544.3V543.6M617.60 544.3V543.6M620.80 544.3V543.6M623.20 544.3V543.6M625.60 544.3V543.6M628.00 544.3V543.6M629.90 544.3V543.6M631.50 544.3V543.6M634.70 544.3V543.6M636.70 544.3V543.6M638.30 544.3V543.6M640.40 544.3V543.6M642.30 544.3V543.6M645.00 544.3V543.6M647.50 544.3V543.4M649.10 544.3V543.3M651.40 544.3V543.3M653.40 544.3V543.3M655.30 544.3V543.3M657.70 544.3V543.3M660.30 544.3V543.3M662.50 544.3V543.3M673.60 544.3V543.6M675.70 544.3V543.6M677.70 544.3V543.6M680.40 544.3V543.6M682.50 544.3V543.6M684.70 544.3V543.6M686.80 544.3V543.6M688.70 544.3V543.8M690.50 544.3V545.0M693.20 544.3V545.3M695.50 544.3V545.3M697.50 544.3V545.3M699.20 544.3V544.8M704.30 544.3V542.5M706.40 544.3V540.8M708.30 544.3V540.1M709.90 544.3V540.6M711.90 544.3V541.6M713.80 544.3V541.6M715.40 544.3V541.4M717.30 544.3V541.4M719.40 544.3V541.7M721.30 544.3V542.3M723.40 544.3V543.2M728.20 544.3V545.7M730.10 544.3V546.0M732.10 544.3V546.4M734.20 544.3V546.7M736.10 544.3V547.2M738.50 544.3V548.0M741.20 544.3V548.6M743.30 544.3V548.7M745.30 544.3V548.0M747.60 544.3V547.4M749.60 544.3V547.0M752.50 544.3V546.3M754.90 544.3V545.8M756.80 544.3V545.5M758.80 544.3V544.7M760.30 544.3V543.5M763.30 544.3V540.6M765.40 544.3V538.8M767.10 544.3V538.8M769.50 544.3V538.9M771.50 544.3V539.2M774.30 544.3V540.5M776.60 544.3V541.6M778.20 544.3V542.1M780.40 544.3V542.8M782.40 544.3V543.6M784.50 544.3V545.3M787.40 544.3V545.8M789.30 544.3V545.8M791.50 544.3V545.8M813.50 544.3V545.8M815.70 544.3V546.8M817.60 544.3V547.7M819.50 544.3V548.7M822.40 544.3V550.6M824.20 544.3V552.0M826.40 544.3V553.3M828.30 544.3V554.2M830.70 544.3V554.0M833.10 544.3V553.3M835.00 544.3V552.7M837.50 544.3V548.1M839.40 544.3V547.1M841.40 544.3V546.4M843.40 544.3V546.0M865.40 544.3V543.8M870.40 544.3V546.2M872.50 544.3V547.0M874.40 544.3V547.6M876.30 544.3V547.4M878.40 544.3V547.1M880.80 544.3V546.6M883.20 544.3V546.4M885.50 544.3V546.4M887.60 544.3V546.1M889.80 544.3V545.9M892.20 544.3V546.5M894.40 544.3V547.3M896.50 544.3V548.1" stroke="#f0196e" stroke-width="1.05" fill="none"/>
<polyline points="7.1,543.3 11.4,541.8 15.2,541.3 17.7,542.6 25.3,542.6 35.4,543.3 38.0,543.8 41.8,542.6 50.6,542.6 54.4,543.8 59.5,545.1 63.3,545.8 69.6,546.9 75.9,547.6 81.0,548.9 87.3,550.2 92.4,551.4 97.5,555.2 101.3,559.5 107.6,561.0 113.9,562.1 120.3,562.1 125.3,559.0 129.1,557.7 134.2,558.3 138.0,559.5 141.8,558.5 144.3,557.7 148.1,559.5 153.2,562.1 158.2,562.3 167.1,562.3 174.7,564.1 179.7,566.1 183.5,566.6 188.6,565.3 193.7,562.8 200.0,559.0 206.3,557.0 213.9,554.5 220.3,553.4 225.3,552.9 229.1,550.9 232.9,551.9 236.7,553.4 240.5,556.0 246.8,557.7 250.6,558.3 255.7,557.0 260.8,554.7 264.6,553.9 268.4,550.2 273.4,545.1 277.2,542.6 281.0,541.8 286.1,542.6 291.1,546.4 296.2,549.4 303.8,550.2 308.9,550.2 313.9,548.4 319.5,546.9 320.0,545.8 327.6,545.8 335.2,546.9 342.8,548.4 350.4,546.9 360.5,546.9 368.1,544.3 378.2,545.3 388.4,545.8 398.5,546.4 406.1,548.4 413.7,546.9 421.3,544.3 428.9,544.3 436.5,544.3 446.6,543.8 450.4,542.6 452.2,536.2 454.2,526.1 458.0,518.5 461.8,515.5 465.6,508.4 469.4,497.0 473.2,486.9 475.7,483.6 479.0,483.1 482.0,485.1 484.6,495.7 488.4,507.1 492.2,514.7 495.9,522.3 498.5,524.3 502.3,526.1 506.1,531.2 509.9,540.0 513.7,547.6 517.5,552.7 521.3,557.7 526.3,561.5 530.1,564.6 533.9,566.6 537.7,565.3 541.5,565.3 545.3,560.3 550.4,553.9 552.9,547.6 555.4,541.3 559.2,539.5 563.0,540.5 566.8,543.8 570.6,541.3 573.2,540.0 577.0,541.3 580.8,544.3 584.6,546.9 589.6,550.2 593.4,550.7 598.5,549.4 603.5,548.4 611.1,546.9 620.0,546.4 630.1,545.1 642.8,544.3 647.8,540.8 651.6,539.3 658.0,539.5 661.8,540.8 669.4,540.0 671.9,538.3 678.2,538.8 682.0,536.7 688.4,536.7 692.2,538.3 695.9,538.8 701.0,537.5 704.8,532.4 708.6,529.9 712.4,529.4 716.2,527.4 720.0,526.1 723.8,527.4 727.6,530.7 731.4,532.4 735.2,535.7 739.0,538.3 742.8,539.5 746.6,538.3 751.6,538.8 756.7,538.8 760.5,535.0 764.3,528.6 768.1,525.6 771.9,524.1 778.2,523.6 782.0,526.1 785.8,528.6 789.6,529.4 794.7,528.6 797.2,527.4 801.0,528.1 806.1,527.4 811.1,528.1 814.9,532.4 818.7,536.7 822.5,540.0 826.3,546.4 830.1,551.4 833.9,553.4 837.7,553.9 840.3,551.9 842.8,551.4 845.3,549.6 849.1,549.6 852.9,550.7 858.0,550.7 863.0,549.6 868.1,550.2 870.6,552.7 874.4,554.7 878.2,556.0 882.0,557.7 885.8,557.7 889.6,559.5 893.4,561.0 896.5,563.6" fill="none" stroke="#ffffff" stroke-width="1.05" stroke-linejoin="round"/>
<polyline points="7.1,544.3 12.7,543.1 25.3,542.6 50.6,542.6 58.2,543.8 65.8,545.1 75.9,546.4 86.1,548.9 93.7,550.9 101.3,555.2 108.9,558.5 116.5,560.3 121.5,561.0 126.6,559.8 134.2,559.0 141.8,559.0 148.1,559.0 154.4,560.3 162.0,561.5 172.2,562.8 179.7,564.6 186.1,565.3 192.4,564.6 200.0,561.5 207.6,559.0 215.2,557.0 222.8,554.7 230.4,552.7 235.4,552.7 240.5,553.9 248.1,556.0 253.2,557.0 260.8,556.0 265.8,554.7 272.2,550.2 277.2,546.4 282.3,544.6 287.3,544.3 292.4,545.8 298.7,547.6 306.3,549.4 311.4,549.4 319.5,547.6 320.0,546.9 335.2,546.9 350.4,546.9 360.5,546.9 370.6,545.8 383.3,545.8 403.5,546.4 416.2,545.8 426.3,545.1 441.5,544.3 450.4,543.8 454.2,538.8 458.0,532.4 461.8,526.1 466.8,516.0 471.9,505.8 477.0,497.0 482.0,493.2 484.6,493.7 488.4,497.0 492.2,500.8 495.9,508.4 501.0,515.5 506.1,521.0 511.1,529.9 516.2,538.8 521.3,546.4 526.3,552.7 531.4,557.7 536.5,561.0 541.5,561.5 546.6,560.8 551.6,558.5 555.4,553.9 559.2,549.4 563.0,547.6 568.1,545.8 573.2,544.3 578.2,543.8 583.3,545.1 588.4,546.4 593.4,548.4 598.5,548.9 606.1,547.6 613.7,546.9 620.0,546.4 632.7,545.6 645.3,543.8 652.9,542.6 660.5,540.8 670.6,540.0 680.8,538.8 688.4,537.5 695.9,538.8 701.0,538.3 706.1,535.7 711.1,533.2 717.5,530.7 723.8,529.4 730.1,529.9 735.2,531.7 741.5,535.0 747.8,537.5 754.2,538.0 759.2,537.5 764.3,534.2 769.4,529.9 774.4,527.4 779.5,526.1 784.6,526.6 789.6,527.4 797.2,527.4 804.8,527.4 812.4,527.9 817.5,531.2 822.5,535.0 827.6,540.0 832.7,545.1 837.7,549.4 842.8,550.7 847.8,550.7 855.4,550.7 863.0,549.6 869.4,550.2 873.2,551.9 878.2,553.4 883.3,555.2 888.4,557.0 893.4,558.5 896.5,559.8" fill="none" stroke="#ff6a00" stroke-width="1.2" stroke-linejoin="round"/>
<path d="M1187.5 44V573.5M7 573.5H1188.0M7 477.5H1257.5M1187.5 67.5h3.5M1187.5 99.5h3.5M1187.5 131.5h3.5M1187.5 163.5h3.5M1187.5 195.5h3.5M1187.5 228.5h3.5M1187.5 260.5h3.5M1187.5 292.5h3.5M1187.5 324.5h3.5M1187.5 356.5h3.5M1187.5 388.5h3.5M1187.5 421.5h3.5M1187.5 453.5h3.5M1187.5 503.5h3.5M1187.5 544.5h3.5M62.5 573.5v3.8M167.5 573.5v3.8M272.5 573.5v3.8M377.5 573.5v3.8M482.5 573.5v3.8M587.5 573.5v3.8M691.5 573.5v3.8M796.5 573.5v3.8M901.5 573.5v3.8M1006.5 573.5v3.8M1111.5 573.5v3.8" stroke="#8a8a8a" stroke-width="1" fill="none"/>
<g font-family="Liberation Sans, sans-serif" font-weight="bold" font-size="11px" fill="#d4d4d4">
<text x="1194" y="72">0.00017000</text>
<text x="1194" y="104">0.00016000</text>
<text x="1194" y="136">0.00015000</text>
<text x="1194" y="168">0.00014000</text>
<text x="1194" y="200">0.00013000</text>
<text x="1194" y="233">0.00012000</text>
<text x="1194" y="265">0.00011000</text>
<text x="1194" y="297">0.00010000</text>
<text x="1194" y="329">0.00009000</text>
<text x="1194" y="361">0.00008000</text>
<text x="1194" y="393">0.00007000</text>
<text x="1194" y="426">0.00006000</text>
<text x="1194" y="458">0.00005000</text>
<text x="1194" y="508">0.0000</text>
<text x="1194" y="549">0.0000</text>
<text x="62.2" y="588" text-anchor="middle">12</text>
<text x="167.1" y="588" text-anchor="middle">13</text>
<text x="272.0" y="588" text-anchor="middle">14</text>
<text x="376.9" y="588" text-anchor="middle">15</text>
<text x="481.8" y="588" text-anchor="middle">16</text>
<text x="586.7" y="588" text-anchor="middle">17</text>
<text x="691.6" y="588" text-anchor="middle">18</text>
<text x="796.5" y="588" text-anchor="middle">19</text>
<text x="901.4" y="588" text-anchor="middle" font-weight="normal">20</text>
<text x="1006.3" y="588" text-anchor="middle" font-weight="normal">21</text>
<text x="1111.2" y="588" text-anchor="middle" font-weight="normal">22</text>
</g>
<rect x="1187" y="295" width="70.5" height="16" fill="#eb4d5c"/>
<rect x="1222" y="312" width="35.5" height="16" fill="#eb4d5c"/>
<path d="M1187 302.5h3.5" stroke="#fff" stroke-width="1"/>
<g font-family="Liberation Sans, sans-serif" font-weight="bold" font-size="11px" fill="#fff">
<text x="1194" y="307">0.00009700</text>
<text x="1225" y="324" letter-spacing="-0.3">16:31</text>
</g>
<g font-family="Liberation Sans, sans-serif" fill="#d6d6d6">
<text x="15.5" y="65" font-size="12px" font-weight="bold" id="lg1" letter-spacing="0.04">TRIG Token / Bitcoin, 30, BITTREX</text>
<text x="15.5" y="81.8" font-size="12px" id="lg2" letter-spacing="0.2">Vol (20)</text>
<text x="15.5" y="498.7" font-size="12px" id="lg3" letter-spacing="0.13">MACD (12, 26, close, 9)</text>
</g>
<g transform="translate(80,596)">
<g fill="#59c1e8"><ellipse cx="11.5" cy="16.4" rx="3.9" ry="4.5"/><circle cx="18.7" cy="12.4" r="5.8"/><circle cx="24.3" cy="12.9" r="4.0"/><circle cx="28.3" cy="17.35" r="3.55"/><rect x="11.1" y="14.5" width="17.2" height="6.4"/></g>
<path d="M8.3 18.9L16.5 12.1L22.1 19.2L29.4 12.0" stroke="#f0f3f6" stroke-width="1.8" fill="none"/>
</g>
</svg>
<div class="t b bl" id="h1" style="left:6px;top:4.2px;letter-spacing:-0.33px">sanjduke</div>
<div class="t" id="h2" style="left:64.3px;top:4.2px;letter-spacing:-0.256px">published on TradingView.com, October 19, 2017 23:13 BST</div>
<div class="t b" id="s1" style="left:6px;top:21.5px;letter-spacing:-0.88px">BITTREX:TRIGBTC, 30</div>
<div class="t" id="s2" style="left:136.3px;top:21.5px;letter-spacing:-0.3px">0.00009700</div>
<svg style="position:absolute;left:205px;top:24px" width="13" height="13" viewBox="0 0 13 13"><path d="M0.7 0.8H12.1L6.4 11.9z" fill="#a30000"/></svg>
<div class="t" id="s3" style="left:220px;top:21.5px;letter-spacing:-0.32px">&minus;0.00003314 (&minus;25.46%)</div>
<div class="t b" id="o1" style="left:358px;top:21.5px;letter-spacing:-0.8px">O:</div>
<div class="t rd" id="o2" style="left:371.8px;top:21.5px;letter-spacing:-0.12px">0.00009840</div>
<div class="t b" id="o3" style="left:443px;top:21.5px;letter-spacing:-0.8px">H:</div>
<div class="t rd" id="o4" style="left:456.7px;top:21.5px;letter-spacing:-0.2px">0.00009933</div>
<div class="t b" id="o5" style="left:528px;top:21.5px;letter-spacing:-1.0px">L:</div>
<div class="t rd" id="o6" style="left:539.5px;top:21.5px;letter-spacing:-0.2px">0.00009700</div>
<div class="t b" id="o7" style="left:610px;top:21.5px;letter-spacing:-1.2px">C:</div>
<div class="t rd" id="o8" style="left:622.5px;top:21.5px;letter-spacing:-0.2px">0.00009700</div>
<div class="t" id="f1" style="left:6px;top:603px;">Created with</div>
<div class="t bl" id="f2" style="left:118px;top:603px;letter-spacing:-0.1px">TradingView</div>
</body></html>
